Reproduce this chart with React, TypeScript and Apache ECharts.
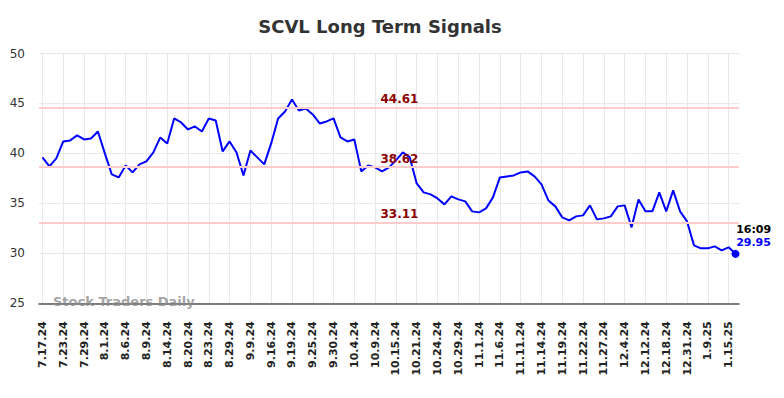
import React, { useEffect, useRef } from "react";
import * as echarts from "echarts";

const dates = [
  "7.17.24", "7.18.24", "7.22.24", "7.23.24", "7.25.24", "7.26.24", "7.29.24", "7.30.24", "7.31.24", "8.1.24",
  "8.2.24", "8.5.24", "8.6.24", "8.7.24", "8.8.24", "8.9.24", "8.12.24", "8.13.24", "8.14.24", "8.15.24",
  "8.19.24", "8.20.24", "8.21.24", "8.22.24", "8.23.24", "8.27.24", "8.28.24", "8.29.24", "9.4.24", "9.6.24",
  "9.9.24", "9.11.24", "9.13.24", "9.16.24", "9.17.24", "9.18.24", "9.19.24", "9.20.24", "9.23.24", "9.25.24",
  "9.26.24", "9.27.24", "9.30.24", "10.2.24", "10.3.24", "10.4.24", "10.7.24", "10.8.24", "10.9.24", "10.10.24",
  "10.14.24", "10.15.24", "10.17.24", "10.18.24", "10.21.24", "10.22.24", "10.23.24", "10.24.24", "10.25.24", "10.28.24",
  "10.29.24", "10.30.24", "10.31.24", "11.1.24", "11.4.24", "11.5.24", "11.6.24", "11.7.24", "11.8.24", "11.11.24",
  "11.12.24", "11.13.24", "11.14.24", "11.15.24", "11.18.24", "11.19.24", "11.20.24", "11.21.24", "11.22.24", "11.25.24",
  "11.26.24", "11.27.24", "11.29.24", "12.3.24", "12.4.24", "12.6.24", "12.10.24", "12.12.24", "12.13.24", "12.17.24",
  "12.18.24", "12.20.24", "12.27.24", "12.31.24", "1.3.25", "1.7.25", "1.9.25", "1.13.25", "1.14.25", "1.15.25",
  "1.16.25",
];

const values = [
  39.6, 38.7, 39.5, 41.2, 41.3, 41.8, 41.4, 41.5, 42.2, 40.0,
  37.9, 37.6, 38.8, 38.1, 38.9, 39.2, 40.1, 41.6, 41.0, 43.5,
  43.1, 42.4, 42.7, 42.2, 43.5, 43.3, 40.2, 41.2, 40.1, 37.8,
  40.3, 39.6, 38.9, 41.0, 43.5, 44.2, 45.4, 44.3, 44.5, 43.9,
  43.0, 43.2, 43.5, 41.6, 41.2, 41.4, 38.2, 38.8, 38.6, 38.2,
  38.6, 39.3, 40.1, 39.6, 37.0, 36.1, 35.9, 35.5, 34.9, 35.7,
  35.4, 35.2, 34.2, 34.1, 34.5, 35.6, 37.6, 37.7, 37.8, 38.1,
  38.2, 37.7, 36.9, 35.3, 34.7, 33.6, 33.3, 33.7, 33.8, 34.8,
  33.4, 33.5, 33.7, 34.7, 34.8, 32.6, 35.4, 34.2, 34.2, 36.1,
  34.2, 36.3, 34.2, 33.2, 30.8, 30.5, 30.5, 30.7, 30.3, 30.6,
  29.95,
];

const levels = [44.61, 38.62, 33.11];
const levelLabels = ["44.61", "38.62", "33.11"];
const lastTime = "16:09";
const titleText = "SCVL Long Term Signals";
const watermark = "Stock Traders Daily";

const FONT = "DejaVu Sans";

export default function App() {
  const ref = useRef<HTMLDivElement>(null);

  useEffect(() => {
    document.body.style.margin = "0";
    const chart = echarts.init(ref.current!, null, { renderer: "svg" });
    const last = values.length - 1;
    const labelIdx = 51;

    chart.setOption({
      animation: false,
      title: {
        text: titleText,
        left: 375,
        top: 12,
        textAlign: "center",
        textStyle: { fontSize: 18, fontWeight: "bold", color: "#333", fontFamily: FONT },
      },
      grid: { left: 39, right: 45, top: 53.5, bottom: 94.7, containLabel: false },
      xAxis: {
        type: "category",
        data: dates,
        boundaryGap: true,
        axisLine: { lineStyle: { color: "#555", width: 1.5 } },
        axisTick: { show: false },
        axisLabel: {
          interval: 2,
          rotate: 90,
          fontSize: 11,
          fontWeight: "bold",
          color: "#222",
          margin: 18,
          fontFamily: FONT,
        },
        splitLine: {
          show: true,
          interval: 2,
          alignWithLabel: true,
          lineStyle: { color: "#e8e8e8", width: 1 },
        },
      },
      yAxis: {
        type: "value",
        min: 25,
        max: 50,
        interval: 5,
        axisLine: { show: false },
        axisTick: { show: false },
        axisLabel: { fontSize: 12, color: "#333", margin: 14, fontFamily: FONT },
        splitLine: { lineStyle: { color: "#e8e8e8", width: 1 } },
      },
      graphic: [
        {
          type: "text",
          left: 53,
          top: 295,
          z: 10,
          style: {
            text: watermark,
            fontSize: 13,
            fontWeight: "bold",
            fill: "rgba(140,140,140,0.8)",
            fontFamily: FONT,
          },
        },
      ],
      series: [
        {
          type: "line",
          data: values,
          showSymbol: false,
          symbol: "none",
          lineStyle: { color: "#0000ff", width: 2 },
          itemStyle: { color: "#0000ff" },
          markLine: {
            silent: true,
            symbol: ["none", "none"],
            label: { show: false },
            lineStyle: { color: "#ffcccc", width: 2, type: "solid" },
            data: levels.map((v) => ({ yAxis: v })),
          },
          markPoint: {
            silent: true,
            data: [
              ...levels.map((v, i) => ({
                coord: [labelIdx, v],
                symbol: "circle",
                symbolSize: 0,
                label: {
                  show: true,
                  formatter: levelLabels[i],
                  position: "top",
                  distance: 2,
                  offset: [3.5, 0],
                  color: "#8b0000",
                  fontWeight: "bold",
                  fontSize: 12,
                  fontFamily: FONT,
                },
              })),
              {
                coord: [last, values[last]],
                symbol: "circle",
                symbolSize: 8,
                itemStyle: { color: "#0000ff" },
                label: {
                  show: true,
                  formatter: `{t|${lastTime}}\n{v|${values[last]}}`,
                  position: [4.6, -14],
                  align: "left",
                  verticalAlign: "middle",
                  rich: {
                    t: { color: "#000", fontWeight: "bold", fontSize: 11, lineHeight: 13.4, fontFamily: FONT },
                    v: { color: "#0000ff", fontWeight: "bold", fontSize: 11, lineHeight: 13.4, fontFamily: FONT },
                  },
                },
              },
            ],
          },
        },
      ],
    });

    return () => chart.dispose();
  }, []);

  return <div ref={ref} style={{ width: 784, height: 398 }} />;
}
